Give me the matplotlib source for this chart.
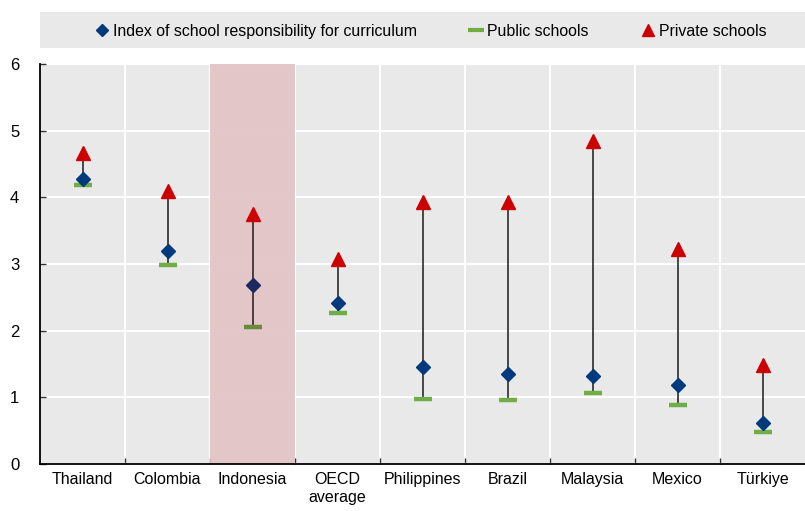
import numpy as np
import matplotlib.pyplot as plt
from matplotlib.patches import Rectangle
from matplotlib.lines import Line2D

plt.rcParams['font.family'] = ['Liberation Sans Narrow', 'Liberation Sans', 'DejaVu Sans']

countries = ['Thailand', 'Colombia', 'Indonesia', 'OECD\naverage', 'Philippines',
             'Brazil', 'Malaysia', 'Mexico', 'Türkiye']
index_val = [4.28, 3.20, 2.68, 2.42, 1.46, 1.35, 1.32, 1.19, 0.61]
public_val = [4.19, 2.98, 2.05, 2.26, 0.97, 0.96, 1.07, 0.88, 0.48]
private_val = [4.66, 4.10, 3.75, 3.08, 3.93, 3.93, 4.84, 3.22, 1.48]
highlight = 'Indonesia'

navy = '#003a7d'
green = '#70ad47'
red = '#cc0000'
bg = '#e9e9e9'

fig = plt.figure(figsize=(8.05, 5.11), dpi=100)
ax = fig.add_axes([40 / 805, 47 / 511, 765 / 805, 400 / 511])
ax.set_facecolor(bg)

x = np.arange(len(countries))
hi = countries.index(highlight)

# vertical range lines
ax.vlines(x, public_val, private_val, color='#1a1a1a', lw=1.1, zorder=3)

# highlight band
ax.axvspan(hi - 0.5, hi + 0.5, color='#e2c3c6', alpha=0.92, lw=0, zorder=2)

idx_colors = [navy] * len(x)
pub_colors = [green] * len(x)
idx_colors[hi] = '#1c2a60'
pub_colors[hi] = '#6b8a3c'

for i in x:
    ax.plot(i, public_val[i], marker='_', ms=13, mew=3.2, color=pub_colors[i], zorder=4)
    ax.plot(i, index_val[i], marker='D', ms=7.5, color=idx_colors[i], mec=idx_colors[i], zorder=5)
    ax.plot(i, private_val[i], marker='^', ms=9.5, color=red, mec=red, zorder=5)

ax.set_xlim(-0.5, len(x) - 0.5)
ax.set_ylim(0, 6)
ax.set_yticks(range(7))
ax.set_xticks(x)
ax.set_xticklabels(countries)
ax.set_xticks(np.arange(0.5, len(x) - 0.5, 1), minor=True)
ax.tick_params(axis='x', which='major', length=0, labelsize=11.5, pad=6)
ax.tick_params(axis='x', which='minor', direction='in', length=4, width=1, color='#333333')
ax.tick_params(axis='y', direction='in', length=4, width=1, labelsize=12, pad=15, color='#333333')

ax.grid(which='minor', axis='x', color='white', lw=1.5, zorder=1)
ax.grid(which='major', axis='y', color='white', lw=1.5, zorder=1)
ax.set_axisbelow(True)
for s in ['top', 'right']:
    ax.spines[s].set_visible(False)
for s in ['left', 'bottom']:
    ax.spines[s].set_color('black')
    ax.spines[s].set_linewidth(1.3)

# legend box
fig.patches.append(Rectangle((40 / 805, 1 - 48 / 511), 765 / 805, 36 / 511,
                             transform=fig.transFigure, facecolor=bg, edgecolor='none', zorder=0))
handles = [
    Line2D([], [], marker='D', ms=6, color=navy, ls='none'),
    Line2D([], [], marker='_', ms=11, mew=3, color=green, ls='none'),
    Line2D([], [], marker='^', ms=8, color=red, ls='none'),
]
labels = ['Index of school responsibility for curriculum', 'Public schools', 'Private schools']
fig.legend(handles, labels, loc='center', bbox_to_anchor=(431 / 805, 1 - 31 / 511), ncol=3,
           frameon=False, fontsize=11.4, handlelength=0.8, handletextpad=0.3, columnspacing=3.35)

fig.savefig('out.png', dpi=100)
